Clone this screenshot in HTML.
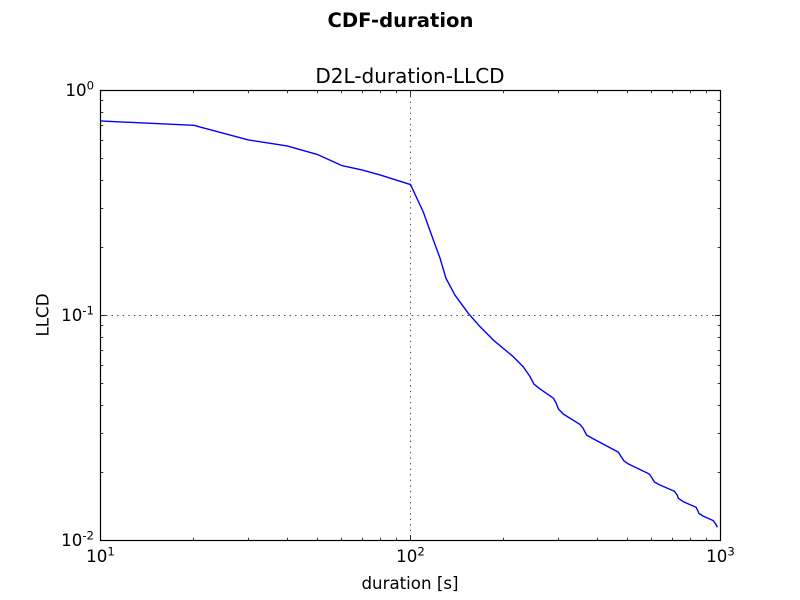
<!DOCTYPE html>
<html>
<head>
<meta charset="utf-8">
<title>CDF-duration</title>
<style>
html,body{margin:0;padding:0;background:#fff;}
svg{display:block;}
text{font-family:"DejaVu Sans","Liberation Sans",sans-serif;fill:#000;}
</style>
</head>
<body>
<svg id="chart" xmlns="http://www.w3.org/2000/svg" width="800" height="600" viewBox="0 0 800 600">
<rect x="0" y="0" width="800" height="600" fill="#fff"/>
<text x="400.5" y="27" text-anchor="middle" font-size="19.6" font-weight="bold">CDF-duration</text>
<text x="410" y="83" text-anchor="middle" font-size="20">D2L-duration-LLCD</text>
<text x="410" y="589" text-anchor="middle" font-size="16.67">duration [s]</text>
<text transform="translate(48.5,315) rotate(-90)" text-anchor="middle" font-size="16.67">LLCD</text>
<g id="grid"></g>
<g id="series"></g>
<g id="ticks"></g>
<rect x="100.5" y="90.5" width="620" height="450" fill="none" stroke="#000" stroke-width="1.2"/>
<g id="labels"></g>
</svg>
<script>
var durations = [10,20,30,40,50,60,70,80,100,110,118.5,124.5,130,139,153.6,167.6,185,214.6,231,243,250,262,289,295,300,311,352,360,370,389,468,478,488,504,589,600,612,635,710,725,731,759,834,843,852,878,948,965,977];
var llcd = [0.732,0.70,0.603,0.567,0.52,0.464,0.443,0.421,0.382,0.288,0.2166,0.18,0.1468,0.1234,0.1023,0.0892,0.0778,0.0656,0.0592,0.0535,0.0496,0.0471,0.0429,0.0408,0.0384,0.0365,0.0328,0.0316,0.0294,0.0283,0.0247,0.0236,0.0226,0.0219,0.01975,0.01905,0.0182,0.0177,0.01655,0.01593,0.0154,0.01487,0.01405,0.01366,0.0132,0.01285,0.01225,0.01184,0.01145];
var xTickExponents = ["1","2","3"];
var yTickExponents = ["0","-1","-2"];
var xDecades = [1,2,3];
var yDecades = [0,-1,-2];
var minorMultipliers = [2,3,4,5,6,7,8,9];

var NS = 'http://www.w3.org/2000/svg';
var LEFT = 100.5, RIGHT = 720.5, TOP = 90.5, BOTTOM = 540.5;
function xScale(v){ return LEFT + (Math.log10(v) - 1) / 2 * (RIGHT - LEFT); }
function yScale(v){ return TOP + (0 - Math.log10(v)) / 2 * (BOTTOM - TOP); }
function make(tag, parent){
  var el = document.createElementNS(NS, tag);
  parent.appendChild(el);
  return el;
}
function line(parent, x1, y1, x2, y2, width, dash){
  var el = make('line', parent);
  el.setAttribute('x1', x1);
  el.setAttribute('y1', y1);
  el.setAttribute('x2', x2);
  el.setAttribute('y2', y2);
  el.setAttribute('stroke', '#000');
  el.setAttribute('stroke-width', width);
  if (dash) el.setAttribute('stroke-dasharray', dash);
  return el;
}
function snap(v){ return Math.floor(v) + 0.5; }

var gridG = document.getElementById('grid');
var ticksG = document.getElementById('ticks');
var labelsG = document.getElementById('labels');

xDecades.forEach(function(d, i){
  var px = snap(xScale(Math.pow(10, d)));
  if (i > 0 && i < xDecades.length - 1) {
    var g = line(gridG, px, TOP, px, BOTTOM, 0.7, '1.39 4.17');
    
    
  }
  [[BOTTOM, BOTTOM - 5.5], [TOP, TOP + 5.5]].forEach(function(p){
    var t = line(ticksG, px, p[0], px, p[1], 0.8);
    
    
  });
  if (i < xDecades.length - 1) {
    minorMultipliers.forEach(function(m){
      var mx = snap(xScale(m * Math.pow(10, d)));
      [[BOTTOM, BOTTOM - 2.8], [TOP, TOP + 2.8]].forEach(function(p){
        var t = line(ticksG, mx, p[0], mx, p[1], 0.8);
        
        
      });
    });
  }
  var lab = make('text', labelsG);
  
  
  lab.setAttribute('x', px);
  lab.setAttribute('y', 562);
  lab.setAttribute('text-anchor', 'middle');
  lab.setAttribute('font-size', '16.67');
  lab.appendChild(document.createTextNode('10'));
  var sup = make('tspan', lab);
  sup.setAttribute('font-size', '11.7');
  sup.setAttribute('dy', '-6.5');
  sup.textContent = xTickExponents[i];
});

yDecades.forEach(function(d, i){
  var py = snap(yScale(Math.pow(10, d)));
  if (i > 0 && i < yDecades.length - 1) {
    var g = line(gridG, LEFT, py, RIGHT, py, 0.7, '1.39 4.17');
    
    
  }
  [[LEFT, LEFT + 5.5], [RIGHT, RIGHT - 5.5]].forEach(function(p){
    var t = line(ticksG, p[0], py, p[1], py, 0.8);
    
    
  });
  if (i < yDecades.length - 1) {
    minorMultipliers.forEach(function(m){
      var my = snap(yScale(m * Math.pow(10, d - 1)));
      [[LEFT, LEFT + 2.8], [RIGHT, RIGHT - 2.8]].forEach(function(p){
        var t = line(ticksG, p[0], my, p[1], my, 0.8);
        
        
      });
    });
  }
  var lab = make('text', labelsG);
  
  
  lab.setAttribute('x', 94);
  lab.setAttribute('y', py + 5.5);
  lab.setAttribute('text-anchor', 'end');
  lab.setAttribute('font-size', '16.67');
  lab.appendChild(document.createTextNode('10'));
  var sup = make('tspan', lab);
  sup.setAttribute('font-size', '11.7');
  sup.setAttribute('dy', '-6.5');
  sup.textContent = yTickExponents[i];
});

var path = make('polyline', document.getElementById('series'));


path.setAttribute('fill', 'none');
path.setAttribute('stroke', '#0000ff');
path.setAttribute('stroke-width', '1.39');
path.setAttribute('stroke-linejoin', 'round');
path.setAttribute('points', durations.map(function(v, i){
  return xScale(v).toFixed(2) + ',' + yScale(llcd[i]).toFixed(2);
}).join(' '));
</script>
</body>
</html>
